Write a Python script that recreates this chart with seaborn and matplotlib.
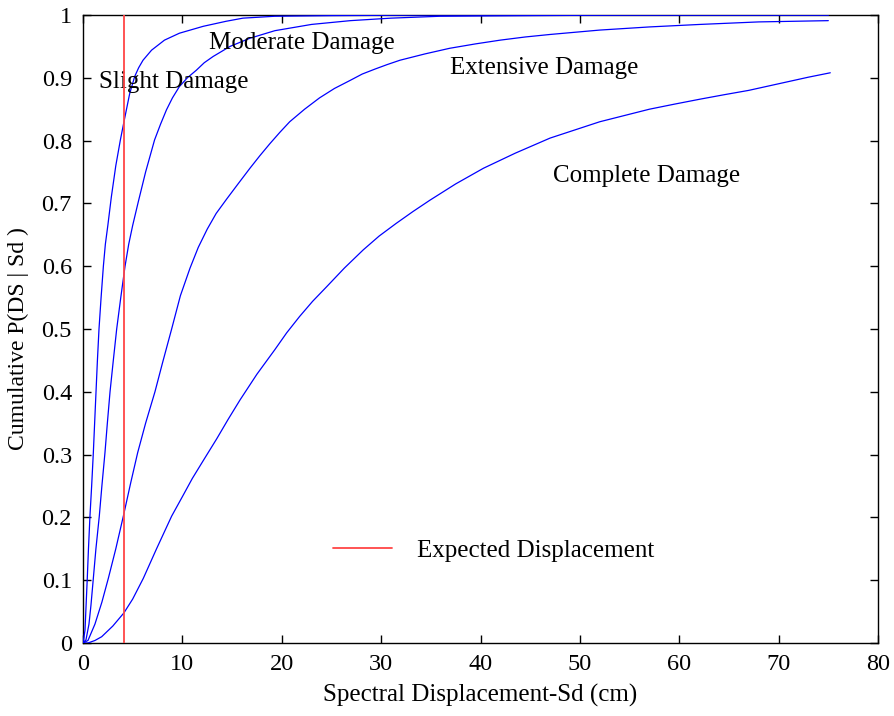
import matplotlib
matplotlib.use("Agg")
import matplotlib.pyplot as plt
import seaborn as sns
import pandas as pd

# ---- data ----
slight_x = [0.0, 0.20, 0.43, 0.55, 0.70, 0.87, 1.04, 1.17, 1.31, 1.45, 1.61, 1.82, 2.05, 2.25, 2.50, 2.85, 3.30, 3.76, 4.16, 4.70, 5.20, 5.60, 6.04, 6.90, 8.20, 9.70, 12.1, 14.4, 16.1, 19.3, 25.0, 35.0, 50.0, 65.0, 75.0]
slight_y = [0.0, 0.02, 0.103, 0.15, 0.202, 0.25, 0.303, 0.35, 0.40, 0.45, 0.50, 0.55, 0.60, 0.635, 0.665, 0.71, 0.76, 0.801, 0.833, 0.875, 0.902, 0.916, 0.928, 0.944, 0.960, 0.971, 0.982, 0.990, 0.995, 0.998, 0.999, 1.0, 1.0, 1.0, 1.0]

moderate_x = [0.0, 0.30, 0.60, 0.80, 1.04, 1.30, 1.64, 1.90, 2.21, 2.45, 2.72, 3.05, 3.39, 3.80, 4.23, 4.60, 5.00, 5.57, 6.30, 7.20, 7.80, 8.40, 9.00, 9.70, 10.5, 11.4, 12.2, 13.1, 14.8, 16.8, 19.3, 23.0, 26.9, 31.0, 35.9, 45.0, 55.0, 65.0, 75.0]
moderate_y = [0.0, 0.005, 0.03, 0.06, 0.103, 0.15, 0.202, 0.25, 0.303, 0.35, 0.40, 0.45, 0.50, 0.55, 0.60, 0.635, 0.665, 0.703, 0.75, 0.801, 0.826, 0.849, 0.868, 0.886, 0.900, 0.912, 0.924, 0.934, 0.950, 0.963, 0.975, 0.985, 0.991, 0.995, 0.998, 0.999, 1.0, 1.0, 1.0]

extensive_x = [0.0, 0.50, 1.20, 1.90, 2.55, 3.30, 4.06, 4.80, 5.50, 6.30, 7.24, 8.00, 8.92, 9.80, 10.77, 11.6, 12.5, 13.4, 14.46, 15.6, 16.8, 17.8, 18.8, 19.8, 20.8, 22.3, 23.8, 25.3, 26.9, 28.1, 29.4, 30.6, 31.9, 34.4, 36.9, 39.5, 42.0, 44.5, 47.0, 52.0, 57.0, 62.1, 68.0, 75.0]
extensive_y = [0.0, 0.004, 0.03, 0.065, 0.103, 0.15, 0.202, 0.255, 0.303, 0.35, 0.40, 0.446, 0.50, 0.553, 0.597, 0.630, 0.659, 0.684, 0.707, 0.731, 0.756, 0.776, 0.795, 0.813, 0.83, 0.85, 0.868, 0.883, 0.896, 0.906, 0.914, 0.921, 0.928, 0.938, 0.947, 0.954, 0.960, 0.965, 0.969, 0.976, 0.981, 0.985, 0.989, 0.991]

complete_x = [0.0, 0.50, 1.20, 1.88, 3.00, 4.12, 5.00, 6.07, 7.40, 8.92, 10.0, 11.0, 12.2, 13.45, 14.6, 15.8, 17.5, 19.3, 20.5, 21.8, 23.1, 24.5, 26.3, 28.2, 29.8, 31.5, 33.2, 34.9, 37.5, 40.3, 43.5, 47.0, 49.5, 52.0, 54.5, 57.0, 59.5, 62.1, 64.5, 67.0, 69.0, 71.0, 73.0, 75.2]
complete_y = [0.0, 0.0, 0.004, 0.01, 0.027, 0.048, 0.07, 0.103, 0.15, 0.202, 0.233, 0.262, 0.293, 0.325, 0.356, 0.387, 0.428, 0.467, 0.494, 0.52, 0.544, 0.567, 0.597, 0.626, 0.648, 0.668, 0.687, 0.705, 0.731, 0.756, 0.780, 0.804, 0.817, 0.830, 0.840, 0.850, 0.858, 0.866, 0.873, 0.880, 0.887, 0.894, 0.901, 0.908]

expected_displacement = 4.15

x_ticks = [0, 10, 20, 30, 40, 50, 60, 70, 80]
y_ticks = [0, 0.1, 0.2, 0.3, 0.4, 0.5, 0.6, 0.7, 0.8, 0.9, 1]
y_tick_labels = ["0", "0.1", "0.2", "0.3", "0.4", "0.5", "0.6", "0.7", "0.8", "0.9", "1"]

curve_labels = ["Slight Damage", "Moderate Damage", "Extensive Damage", "Complete Damage"]
label_pos_x = [1.6, 12.7, 36.9, 47.3]
label_pos_y = [0.894, 0.955, 0.915, 0.743]

# ---- plotting ----
sns.set_style("ticks")
plt.rcParams["font.family"] = ["Liberation Serif", "DejaVu Serif"]
plt.rcParams["text.color"] = "black"
plt.rcParams["axes.labelcolor"] = "black"
plt.rcParams["xtick.color"] = "black"
plt.rcParams["ytick.color"] = "black"

fig = plt.figure(figsize=(8.95, 7.16), dpi=100)
ax = fig.add_axes([83 / 895, 1 - 643 / 716, 795 / 895, 628 / 716])

curves = [(slight_x, slight_y), (moderate_x, moderate_y),
          (extensive_x, extensive_y), (complete_x, complete_y)]
for cx, cy in curves:
    df = pd.DataFrame({"x": cx, "y": cy})
    sns.lineplot(data=df, x="x", y="y", ax=ax, color="#0000ff", lw=0.9,
                 sort=False, estimator=None, legend=False, zorder=3)

red = ax.axvline(expected_displacement, color="#ff4545", lw=1.3, zorder=4,
                 label="Expected Displacement")

for t, lx, ly in zip(curve_labels, label_pos_x, label_pos_y):
    ax.text(lx, ly, t, fontsize=18, ha="left", va="center", color="black")

ax.set_xlim(0, 80)
ax.set_ylim(0, 1)
ax.set_xticks(x_ticks)
ax.set_xticklabels([str(v) for v in x_ticks])
ax.set_yticks(y_ticks)
ax.set_yticklabels(y_tick_labels)
ax.tick_params(direction="in", length=6, width=1, top=True, right=True,
               labelsize=17.5)
ax.tick_params(axis="y", pad=8)
ax.tick_params(axis="x", pad=8)
for s in ax.spines.values():
    s.set_visible(True)
    s.set_linewidth(1.0)
    s.set_color("black")

ax.set_xlabel("Spectral Displacement-Sd (cm)", fontsize=18, labelpad=6)
ax.set_ylabel("Cumulative P(DS | Sd )", fontsize=17)
ax.yaxis.set_label_coords(-0.068, 0.484)

leg = ax.legend(handles=[red], loc="center left", bbox_to_anchor=(0.3145, 0.1465),
                frameon=False, fontsize=18, handlelength=2.36, handletextpad=1.0,
                borderpad=0, borderaxespad=0)

fig.savefig("out.png", dpi=100)
